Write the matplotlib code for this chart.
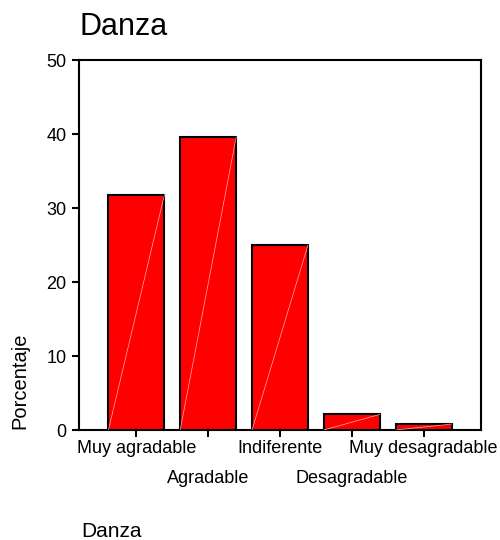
import numpy as np
import matplotlib.pyplot as plt

categorias = ['Muy agradable', 'Agradable', 'Indiferente', 'Desagradable', 'Muy desagradable']
porcentajes = [31.8, 39.6, 25.0, 2.1, 0.8]
yticks = [0, 10, 20, 30, 40, 50]

plt.rcParams['font.family'] = ['Liberation Sans', 'DejaVu Sans']

fig = plt.figure(figsize=(5, 5.4), dpi=100)
ax = fig.add_axes([0.158, 0.2037, 0.804, 0.685])

x = np.arange(len(categorias))
ancho = 0.78
ax.bar(x, porcentajes, width=ancho, color='#ff0000', edgecolor='black', linewidth=1.5, zorder=2)
# lineas tenues en diagonal dentro de las barras
for xi, v in zip(x, porcentajes):
    ax.plot([xi - ancho / 2, xi + ancho / 2], [0, v], color='#ffb0b0', lw=0.5, zorder=3)

ax.set_xlim(-0.8, 4.8)
ax.set_ylim(0, 50)
ax.set_yticks(yticks)
# etiquetas alternas: pares arriba (major), impares abajo (minor)
ax.set_xticks(x[0::2])
ax.set_xticklabels(categorias[0::2], fontsize=13)
ax.set_xticks(x[1::2], minor=True)
ax.set_xticklabels(categorias[1::2], minor=True, fontsize=13)
ax.tick_params(axis='y', labelsize=13, length=5, width=1.5, pad=4)
ax.tick_params(axis='x', which='both', length=5, width=1.5)
ax.tick_params(axis='x', which='major', pad=2)
ax.tick_params(axis='x', which='minor', pad=23.5)
for s in ax.spines.values():
    s.set_linewidth(1.5)

fig.text(0.16, 1 - 35 / 540, 'Danza', fontsize=22, ha='left', va='baseline')
fig.text(0.04, 1 - 429 / 540, 'Porcentaje', fontsize=14.5, rotation=90, ha='center', va='bottom')
fig.text(0.162, 1 - 537 / 540, 'Danza', fontsize=15, ha='left', va='baseline')

fig.savefig('out.png', dpi=100)
